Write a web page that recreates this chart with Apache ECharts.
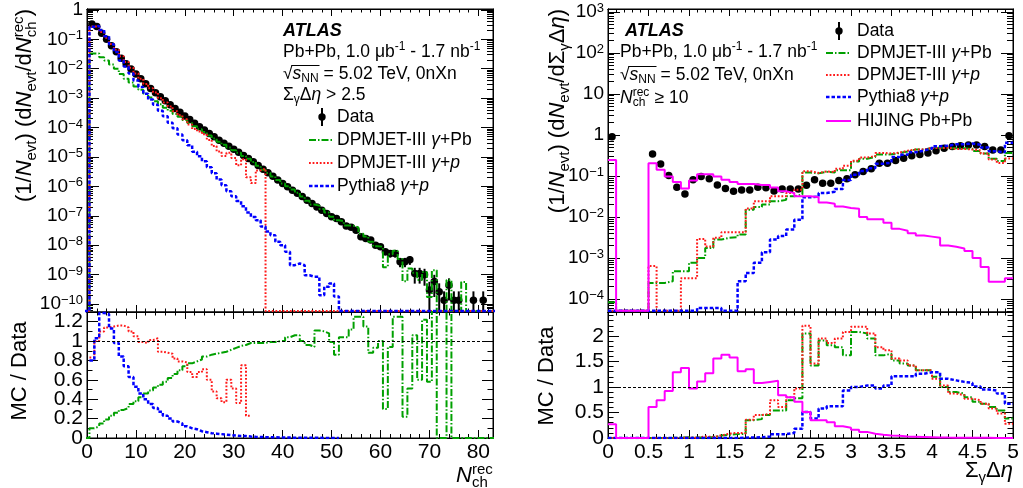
<!DOCTYPE html>
<html><head><meta charset="utf-8">
<script src="https://cdn.jsdelivr.net/npm/echarts@6/dist/echarts.min.js"></script>
<style>html,body{margin:0;padding:0;background:#fff}#c{width:1023px;height:488px}</style>
</head><body><div id="c"></div>
<script>
// ---------------- DATA (left: N_ch^rec bins, right: Sigma_gamma Delta eta bins) ----------------
const nchBins = [0,1,2,3,4,5,6,7,8,9,10,11,12,13,14,15,16,17,18,19,20,21,22,23,24,25,26,27,28,29,30,31,32,33,34,35,36,37,38,39,40,41,42,43,44,45,46,47,48,49,50,51,52,53,54,55,56,57,58,59,60,61,62,63,64,65,66,67,68,69,70,71,72,73,74,75,76,77,78,79,80,81,82,83];
const dataL = [0,
 0.331,0.275,0.162,0.1,0.0603,0.038,0.0229,0.0148,0.00977,0.00661,
 0.00457,0.00309,0.00214,0.00151,0.00112,8.1e-4,6.0e-4,4.4e-4,3.3e-4,2.45e-4,
 1.86e-4,1.41e-4,1.07e-4,8.3e-5,6.3e-5,4.9e-5,3.7e-5,2.9e-5,2.3e-5,1.82e-5,
 1.45e-5,1.12e-5,8.9e-6,6.9e-6,5.1e-6,3.8e-6,2.9e-6,2.2e-6,1.66e-6,1.26e-6,
 9.8e-7,7.4e-7,5.8e-7,4.5e-7,3.4e-7,2.6e-7,2.0e-7,1.55e-7,1.2e-7,9.3e-8,
 8.1e-8,6.3e-8,4.5e-8,4.1e-8,3.2e-8,1.95e-8,1.7e-8,1.5e-8,1.0e-8,8.9e-9,
 6.0e-9,5.2e-9,5.2e-9,2.75e-9,2.75e-9,3.2e-9,1.1e-9,1.1e-9,1.0e-9,3.0e-10,
 5.8e-10,2.6e-10,1.35e-10,4.4e-10,1.35e-10,1.35e-10,0,0,1.35e-10,0,
 1.35e-10,0,0];
const dataErrRelL = [0,
 0,0,0,0,0,0,0,0,0,0, 0,0,0,0,0,0,0,0,0,0, 0,0,0,0,0,0,0,0,0,0,
 0,0,0,0,0,0,0,0,0,0, 0,0,0,0,0,0,0,0,0,0,
 0,0,0,0,0,0,0,0.15,0.18,0.2,
 0.25,0.27,0.27,0.35,0.35,0.33,0.55,0.55,0.58,0.9,
 0.7,0.95,1.0,0.7,1.0,1.0,0,0,1.0,0,
 1.0,0,0];
const dpmPbL = [0,
 0.0331,0.033,0.0243,0.019,0.0139,0.00988,0.00664,0.00459,0.00342,0.00251,
 0.00192,0.00142,0.00105,7.85e-4,6.16e-4,4.7e-4,3.72e-4,2.9e-4,2.31e-4,1.81e-4,
 1.43e-4,1.11e-4,8.7e-5,7.0e-5,5.4e-5,4.26e-5,3.26e-5,2.58e-5,2.09e-5,1.69e-5,
 1.38e-5,1.08e-5,8.7e-6,6.8e-6,5.0e-6,3.7e-6,2.87e-6,2.18e-6,1.66e-6,1.26e-6,
 1.02e-6,7.8e-7,6.1e-7,4.5e-7,3.26e-7,2.44e-7,2.22e-7,1.7e-7,1.3e-7,9.2e-8,
 7.0e-8,6.6e-8,4.7e-8,4.6e-8,4.0e-8,2.44e-8,1.96e-8,1.32e-8,9.3e-9,8.9e-9,
 1.8e-9,4.9e-9,6.5e-9,3.4e-9,6.0e-10,1.63e-9,1.17e-9,6.6e-10,1.22e-9,1.74e-10,
 1.4e-9,0,0,6.6e-10,0,0,5.6e-10,0,0,0,
 0,0,0];
const dpmPL = [0,
 0.275,0.275,0.178,0.114,0.0693,0.0441,0.0266,0.0169,0.01075,0.00694,
 0.00452,0.00303,0.00216,0.00156,9.97e-4,7.13e-4,5.22e-4,3.61e-4,2.61e-4,1.91e-4,
 1.26e-4,8.9e-5,7.3e-5,5.9e-5,3.8e-5,2.35e-5,1.52e-5,1.07e-5,1.38e-5,9.3e-6,
 5.2e-6,8.4e-6,2.05e-6,1.3e-6,3.5e-6,4.0e-6,0,0,0,0,
 0,0,0,0,0,0,0,0,0,0, 0,0,0,0,0,0,0,0,0,0,
 0,0,0,0,0,0,0,0,0,0, 0,0,0,0,0,0,0,0,0,0,
 0,0,0];
const pyth8L = [0,
 0.265,0.283,0.209,0.128,0.068,0.037,0.019,0.012,0.0069,0.0040,
 0.0024,0.0014,8.9e-4,6.0e-4,3.7e-4,2.4e-4,1.45e-4,9.5e-5,5.8e-5,3.7e-5,
 2.5e-5,1.5e-5,1.05e-5,7.1e-6,4.5e-6,2.8e-6,1.7e-6,1.1e-6,6.8e-7,4.6e-7,
 3.2e-7,2.1e-7,1.3e-7,9.1e-8,7.1e-8,4.3e-8,2.9e-8,2.2e-8,1.3e-8,1.0e-8,
 6.0e-9,2.1e-9,2.4e-9,2.1e-9,9.5e-10,8.5e-10,8.5e-10,2.0e-10,3.9e-10,5.0e-10,
 1.8e-10,0,0,0,0,0,0,0,0,0,
 0,0,0,0,0,0,0,0,0,0, 0,0,0,0,0,0,0,0,0,0,
 0,0,0];
const ratioPbL = [0,
 0.10,0.12,0.15,0.19,0.23,0.26,0.29,0.31,0.35,0.38,
 0.42,0.46,0.49,0.52,0.55,0.58,0.62,0.66,0.70,0.74,
 0.77,0.79,0.81,0.84,0.86,0.87,0.88,0.89,0.91,0.93,
 0.95,0.96,0.98,0.98,0.98,0.98,0.99,0.99,1.0,1.0,
 1.04,1.06,1.06,1.0,0.96,0.94,1.11,1.10,1.08,0.99,
 0.86,1.04,1.04,1.12,1.25,1.25,1.15,0.88,0.93,1.0,
 0.3,0.94,1.25,1.25,0.22,0.51,1.06,0.6,1.22,0.58,
 2.4,0,0,4.9,0,0,0,0,0,0,
 0,0,0];
const ratioPL = [null,
 0.83,1.0,1.1,1.14,1.15,1.16,1.16,1.14,1.1,1.05,
 0.99,0.98,1.01,1.03,0.89,0.88,0.87,0.82,0.79,0.78,
 0.68,0.63,0.68,0.71,0.6,0.48,0.41,0.37,0.6,0.51,
 0.36,0.75,0.23];
const ratioPy8L = [null,
 0.80,1.03,1.29,1.28,1.13,0.98,0.84,0.74,0.63,0.53,
 0.46,0.40,0.35,0.31,0.27,0.23,0.20,0.17,0.15,0.12,
 0.10,0.09,0.07,0.06,0.05,0.045,0.04,0.035,0.03,0.025,
 0.02,0.02,0.015,0.012,0.01,0.009,0.008,0.007,0.006,0.005,
 0.004,0.003,0.003,0.003,0.002,0.002,0.002,0.001,0.001,0.001,
 0.001];

const sdeBins = [0.05,0.15,0.25,0.35,0.45,0.55,0.65,0.75,0.85,0.95,1.05,1.15,1.25,1.35,1.45,1.55,1.65,1.75,1.85,1.95,2.05,2.15,2.25,2.35,2.45,2.55,2.65,2.75,2.85,2.95,3.05,3.15,3.25,3.35,3.45,3.55,3.65,3.75,3.85,3.95,4.05,4.15,4.25,4.35,4.45,4.55,4.65,4.75,4.85,4.95];
const dataR = [0.9,0,0,0,0,0.34,0.195,0.102,0.053,0.036,
 0.080,0.097,0.085,0.060,0.049,0.042,0.045,0.045,0.053,0.051,
 0.043,0.048,0.048,0.048,0.059,0.081,0.066,0.066,0.077,0.085,
 0.107,0.128,0.149,0.204,0.204,0.237,0.27,0.31,0.33,0.36,
 0.41,0.47,0.52,0.54,0.57,0.57,0.52,0.43,0.43,0.95];
const dpmPbR = [8.3e-5,0,0,0,0,2.45e-4,2.45e-4,2.7e-4,4.7e-4,4.7e-4,
 7.6e-4,1.0e-3,1.74e-3,2.8e-3,3.1e-3,3.2e-3,3.7e-3,0.015,0.0174,0.020,
 0.024,0.026,0.032,0.035,0.121,0.115,0.126,0.120,0.137,0.138,
 0.223,0.262,0.29,0.33,0.337,0.36,0.394,0.44,0.44,0.48,
 0.49,0.47,0.47,0.47,0.456,0.405,0.35,0.26,0.23,0.36];
const dpmPR = [0,0,0,0,0,6.3e-4,0,0,0,3.2e-4,
 3.2e-4,2.9e-3,1.9e-3,3.1e-3,4.2e-3,4.2e-3,4.2e-3,0.016,0.024,0.024,
 0.032,0.032,0.038,0.046,0.13,0.118,0.129,0.123,0.15,0.177,
 0.233,0.279,0.305,0.363,0.351,0.37,0.41,0.44,0.44,0.48,
 0.476,0.484,0.452,0.454,0.439,0.42,0.35,0.25,0.206,0.266];
const pyth8R = [0,0,0,0,0,0,0,0,0,0,
 0,6e-5,6e-5,6e-5,0,0,2.7e-4,4.3e-4,7.6e-4,1.37e-3,
 2.8e-3,3.4e-3,4.9e-3,8.5e-3,0.030,0.031,0.038,0.041,0.048,0.079,
 0.107,0.132,0.153,0.198,0.21,0.287,0.327,0.375,0.416,0.464,
 0.53,0.545,0.588,0.594,0.616,0.576,0.494,0.40,0.374,0.64];
const hijingR = [0.245,0,0,0,0,0.204,0.141,0.097,0.071,0.049,
 0.077,0.11,0.11,0.097,0.081,0.071,0.063,0.063,0.06,0.06,
 0.052,0.042,0.038,0.032,0.032,0.030,0.0225,0.021,0.018,0.0165,
 0.0158,0.010,0.0087,0.0087,0.0072,0.0051,0.0046,0.0040,0.0035,0.0033,
 0.0031,0.0020,0.00186,0.0017,0.00148,0.0010,6.0e-4,2.6e-4,2.6e-4,3.2e-4];
const ratioPbR = [0,0,0,0,0,0.001,0.001,0.003,0.009,0.013,
 0.01,0.01,0.02,0.047,0.063,0.076,0.082,0.35,0.37,0.45,
 0.54,0.54,0.74,0.78,2.05,1.42,1.91,1.82,1.78,1.62,
 2.08,2.05,1.95,1.62,1.65,1.52,1.46,1.42,1.33,1.33,
 1.2,1.0,0.9,0.87,0.8,0.71,0.67,0.61,0.54,0.38];
const ratioPR = [0,0,0,0,0,0.002,0,0,0,0.009,
 0.004,0.03,0.022,0.05,0.086,0.1,0.093,0.36,0.45,0.47,
 0.74,0.61,0.8,0.97,2.2,1.46,1.95,1.86,1.95,2.08,
 2.18,2.18,2.05,1.78,1.72,1.56,1.52,1.42,1.33,1.33,
 1.16,1.03,0.87,0.84,0.77,0.74,0.67,0.58,0.48,0.28];
const ratioPy8R = [0,0,0,0,0,0,0,0,0,0,
 0,0.0006,0.0007,0.0006,0,0,0.006,0.01,0.014,0.026,
 0.075,0.075,0.1,0.18,0.51,0.38,0.58,0.62,0.62,0.93,
 1.0,1.03,1.03,0.97,1.03,1.21,1.21,1.21,1.26,1.29,
 1.29,1.16,1.13,1.1,1.08,1.01,0.95,0.93,0.87,0.67];
const ratioHijR = [0.27,0,0,0,0,0.61,0.74,0.92,1.29,1.37,
 0.97,1.11,1.27,1.56,1.63,1.58,1.31,1.35,1.08,1.1,
 1.12,0.84,0.8,0.71,0.51,0.35,0.35,0.31,0.23,0.2,
 0.16,0.12,0.085,0.065,0.05,0.045,0.03,0.025,0.02,0.015,
 0.01,0.008,0.007,0.006,0.005,0.004,0.003,0.002,0.001,0.001];

// tick labels
const xTicksL = [0,10,20,30,40,50,60,70,80];
const xTicksR = [0,0.5,1,1.5,2,2.5,3,3.5,4,4.5,5];
const yLogTicksL = [-10,-9,-8,-7,-6,-5,-4,-3,-2,-1,0];
const yLogTicksR = [-4,-3,-2,-1,0,1,2,3];
const yRatioTicksL = [0,0.2,0.4,0.6,0.8,1,1.2];
const yRatioTicksR = [0,0.5,1,1.5,2];

// ---------------- helpers ----------------
const F = '"Liberation Sans", Arial, Helvetica, sans-serif';
const XL = [0, 83], YL = [-10.27, 0.03], RL = [0, 1.3];
const XR = [0, 5], YR = [-4.32, 3.07], RR = [0, 2.47];
const C_G = '#00a000', C_R = '#ff1a1a', C_B = '#0000ff', C_M = '#ff00ff';
const D_G = [7,2,1.5,2], D_R = [1.8,1.8], D_B = [3.5,2];

function minorLog(r){ const a=[]; for(let n=Math.floor(r[0])-1;n<=Math.ceil(r[1]);n++) for(let k=2;k<=9;k++){const v=n+Math.log10(k); if(v>r[0]&&v<r[1]) a.push(v);} return a; }
function minorLin(r, step, majors){ const a=[]; const n=Math.round((r[1]-r[0])/step); for(let i=1;i<n+1;i++){ const v=+(r[0]+i*step).toFixed(4); if(v>=r[1]) break; if(!majors.some(m=>Math.abs(m-v)<1e-6)) a.push(v);} return a; }

const xAxes = [], yAxes = [];
function ax(base, pos, vals, len, lab, labVals){
  return Object.assign({}, base, {
    position: pos,
    axisLine: {show: len > 0, onZero: false, lineStyle: {color: '#000', width: 1}},
    axisTick: {show: len > 0, inside: true, length: len, lineStyle: {color: '#000', width: 1}, customValues: vals},
    axisLabel: lab ? Object.assign({show: true, customValues: labVals || vals, color: '#000', fontFamily: F,
                       showMinLabel: true, showMaxLabel: true, hideOverlap: false}, lab) : {show: false},
    splitLine: {show: false}, minorTick: {show: false}, minorSplitLine: {show: false}, silent: true
  });
}
function panel(g, xr, yr, xMaj, xMin, yMaj, yMin, xLab, yLab, L){
  const xb = {gridIndex: g, type: 'value', min: xr[0], max: xr[1]};
  const yb = {gridIndex: g, type: 'value', min: yr[0], max: yr[1]};
  xAxes.push(ax(xb,'bottom',xMaj,L.xb,xLab)); const xi = xAxes.length-1;
  xAxes.push(ax(xb,'bottom',xMin,L.xb/2,null));
  xAxes.push(ax(xb,'top',xMaj,L.xt,null));
  xAxes.push(ax(xb,'top',xMin,L.xt/2,null));
  // labels split over two axes (alternate values) so that no automatic min/max label hiding happens
  const labA = L.split ? yMaj.filter((v,i)=>i%2===0) : yMaj;
  const labB = L.split ? yMaj.filter((v,i)=>i%2===1) : null;
  yAxes.push(ax(yb,'left',yMaj,L.y,yLab,labA)); const yi = yAxes.length-1;
  if (labB) yAxes.push(ax(yb,'left',labB,0,yLab,labB));
  yAxes.push(ax(yb,'left',yMin,L.y/2,null));
  yAxes.push(ax(yb,'right',yMaj,L.y,null));
  yAxes.push(ax(yb,'right',yMin,L.y/2,null));
  return {xi, yi};
}
const logLabel = {
  margin: 4,
  formatter: v => { const n = Math.round(v); if (n === 0) return '{b|1}'; if (n === 1) return '{b|10}'; return '{b|10}{s|' + (n < 0 ? '\u2212' : '') + Math.abs(n) + '}'; },
  rich: { b: {fontSize: 19, fontFamily: F, color: '#000', lineHeight: 20, verticalAlign: 'middle'},
          s: {fontSize: 13, fontFamily: F, color: '#000', lineHeight: 12, verticalAlign: 'top'} }
};
const numLabelX = {fontSize: 21, lineHeight: 18, margin: 5};
const numLabelY = {fontSize: 21, lineHeight: 18, margin: 4};

const P0 = panel(0, XL, YL, xTicksL, minorLin(XL,2,xTicksL), yLogTicksL, minorLog(YL), null, logLabel, {xb:7, xt:7, y:12});
const P1 = panel(1, XL, RL, xTicksL, minorLin(XL,2,xTicksL), yRatioTicksL, minorLin(RL,0.1,yRatioTicksL), numLabelX, numLabelY, {xb:8, xt:7, y:11, split:true});
const P2 = panel(2, XR, YR, xTicksR, minorLin(XR,0.1,xTicksR), yLogTicksR, minorLog(YR), null, logLabel, {xb:7, xt:7, y:12});
const P3 = panel(3, XR, RR, xTicksR, minorLin(XR,0.1,xTicksR), yRatioTicksR, minorLin(RR,0.1,yRatioTicksR), numLabelX, numLabelY, {xb:8, xt:7, y:11});

const lgL = v => v > 0 ? Math.log10(v) : YL[0] + 0.03;
const lgR = v => v > 0 ? Math.log10(v) : YR[0] + 0.03;
const lin = v => v;
function histPts(centers, w, vals, tf){
  const pts = [];
  for (let i = 0; i < centers.length; i++){
    const v = vals[i];
    if (v === null || v === undefined) continue;
    const y = tf(v);
    pts.push([centers[i] - w/2, y], [centers[i] + w/2, y]);
  }
  return pts;
}
function hline(P, pts, color, width, dash, extra){
  return Object.assign({type: 'line', xAxisIndex: P.xi, yAxisIndex: P.yi, data: pts, symbol: 'none', showSymbol: false,
    clip: true, silent: true, animation: false, lineStyle: {color, width, type: dash || 'solid', cap: 'butt'}}, extra || {});
}
function markers(P, centers, vals, tf){
  const pts = [];
  centers.forEach((c, i) => { if (vals[i] > 0) pts.push([c, tf(vals[i])]); });
  return {type: 'scatter', xAxisIndex: P.xi, yAxisIndex: P.yi, data: pts, symbol: 'circle', symbolSize: 7.5,
    itemStyle: {color: '#000', opacity: 1}, silent: true, animation: false, clip: true};
}
function errBars(P, centers, vals, rel, tf, floor){
  const pts = [];
  centers.forEach((c, i) => { const v = vals[i], e = rel[i]; if (v > 0 && e > 0){ const lo = v*(1-e); pts.push([c, lo > 0 ? Math.max(tf(lo), floor) : floor, tf(v*(1+e))]); } });
  return {type: 'custom', xAxisIndex: P.xi, yAxisIndex: P.yi, data: pts, clip: true, silent: true, animation: false,
    renderItem: (params, api) => { const a = api.coord([api.value(0), api.value(1)]), b = api.coord([api.value(0), api.value(2)]);
      return {type: 'line', shape: {x1: a[0], y1: a[1], x2: b[0], y2: b[1]}, style: {stroke: '#000', lineWidth: 2}}; }};
}
const unityLine = {markLine: {silent: true, symbol: ['none','none'], label: {show: false}, animation: false,
  lineStyle: {color: '#000', width: 1, type: [3,2]}, data: [{yAxis: 1}]}};

const series = [
  errBars(P0, nchBins, dataL, dataErrRelL, lgL, YL[0]),
  markers(P0, nchBins, dataL, lgL),
  hline(P0, histPts(nchBins, 1, dpmPbL, lgL), C_G, 2, D_G),
  hline(P0, histPts(nchBins, 1, dpmPL, lgL), C_R, 2, D_R),
  hline(P0, histPts(nchBins, 1, pyth8L, lgL), C_B, 2.5, D_B),
  hline(P1, histPts(nchBins, 1, ratioPbL, lin), C_G, 2, D_G, unityLine),
  hline(P1, histPts(nchBins, 1, ratioPL, lin), C_R, 2, D_R),
  hline(P1, histPts(nchBins, 1, ratioPy8L, lin), C_B, 2.5, D_B),
  markers(P2, sdeBins, dataR, lgR),
  hline(P2, histPts(sdeBins, 0.1, dpmPbR, lgR), C_G, 2, D_G),
  hline(P2, histPts(sdeBins, 0.1, dpmPR, lgR), C_R, 2, D_R),
  hline(P2, histPts(sdeBins, 0.1, pyth8R, lgR), C_B, 2.5, D_B),
  hline(P2, histPts(sdeBins, 0.1, hijingR, lgR), C_M, 2, 'solid'),
  hline(P3, histPts(sdeBins, 0.1, ratioPbR, lin), C_G, 2, D_G, unityLine),
  hline(P3, histPts(sdeBins, 0.1, ratioPR, lin), C_R, 2, D_R),
  hline(P3, histPts(sdeBins, 0.1, ratioPy8R, lin), C_B, 2.5, D_B),
  hline(P3, histPts(sdeBins, 0.1, ratioHijR, lin), C_M, 2, 'solid')
];

// ---------------- texts ----------------
const TS = 17.5, SS = 12;
const richTxt = {
  t: {fontSize: TS, fontFamily: F, lineHeight: 22, verticalAlign: 'middle', align: 'left'},
  ti: {fontSize: TS, fontFamily: F, fontStyle: 'italic', lineHeight: 22, verticalAlign: 'middle', align: 'left'},
  sb: {fontSize: SS, fontFamily: F, lineHeight: SS, verticalAlign: 'bottom', align: 'left'},
  sp: {fontSize: SS, fontFamily: F, lineHeight: SS, verticalAlign: 'top', align: 'left'},
  sp0: {fontSize: SS, fontFamily: F, lineHeight: SS, verticalAlign: 'top', align: 'left', width: 0.01},
  sbw: {fontSize: SS, fontFamily: F, lineHeight: SS, verticalAlign: 'bottom', align: 'left', width: 17}
};
const richTitle = {
  m: {fontSize: 22, fontFamily: F, lineHeight: 28, verticalAlign: 'middle', align: 'left'},
  mi: {fontSize: 22, fontFamily: F, fontStyle: 'italic', lineHeight: 28, verticalAlign: 'middle', align: 'left'},
  sb: {fontSize: 15, fontFamily: F, lineHeight: 15, verticalAlign: 'bottom', align: 'left'},
  sp0: {fontSize: 15, fontFamily: F, lineHeight: 15, verticalAlign: 'top', align: 'left', width: 0.01},
  sbw: {fontSize: 15, fontFamily: F, lineHeight: 15, verticalAlign: 'bottom', align: 'left', width: 21}
};
function txt(x, y, text, rich, extra, align){
  return Object.assign({type: 'text', x, y, z: 100, silent: true,
    style: {text, rich, fill: '#000', font: TS + 'px ' + F, align: align || 'left', verticalAlign: 'middle'}}, extra || {});
}
function atlas(x, y){ return {type: 'text', x, y, z: 100, silent: true, style: {text: 'ATLAS', fill: '#000', font: 'italic bold 18px ' + F, align: 'left', verticalAlign: 'middle'}}; }
function seg(x1, y1, x2, y2, color, w, dash){ return {type: 'line', z: 100, silent: true, shape: {x1, y1, x2, y2}, style: {stroke: color, lineWidth: w, lineDash: dash || null}}; }
function dataKey(x, y){ return [seg(x, y-9, x, y+9, '#000', 2), {type: 'circle', z: 101, silent: true, shape: {cx: x, cy: y, r: 3.7}, style: {fill: '#000'}}]; }

const lumi = '{t|Pb+Pb, 1.0 \u03bcb}{sp|-1}{t| - 1.7 nb}{sp|-1}';
const sqrtS = '{t|\u221a}{ti|s}{sb|NN}{t| = 5.02 TeV, 0nXn}';
const g = [];
// left panel annotations
g.push(atlas(283, 31));
g.push(txt(283, 52, lumi, richTxt));
g.push(txt(283, 74, sqrtS, richTxt));
g.push(seg(291.5, 65.5, 319.5, 65.5, '#000', 1));
g.push(txt(283, 95, '{t|\u03a3}{sb|\u03b3}{t|\u0394}{ti|\u03b7}{t| > 2.5}', richTxt));
g.push(...dataKey(322, 117));
g.push(txt(337, 117, '{t|Data}', richTxt));
g.push(seg(309, 140, 334, 140, C_G, 2, D_G));
g.push(txt(337, 140, '{t|DPMJET-III }{ti|\u03b3}{t|+Pb}', richTxt));
g.push(seg(309, 163, 334, 163, C_R, 2, D_R));
g.push(txt(337, 163, '{t|DPMJET-III }{ti|\u03b3}{t|+}{ti|p}', richTxt));
g.push(seg(309, 186, 334, 186, C_B, 2.5, D_B));
g.push(txt(337, 186, '{t|Pythia8 }{ti|\u03b3}{t|+}{ti|p}', richTxt));
// right panel annotations
g.push(atlas(625, 31));
g.push(txt(620, 52, lumi, richTxt));
g.push(txt(620, 75, sqrtS, richTxt));
g.push(seg(628.5, 66.5, 656.5, 66.5, '#000', 1));
g.push(txt(620, 98, '{ti|N}{sp0|rec}{sbw|ch}{t| \u2265 10}', richTxt));
g.push(...dataKey(839, 31));
g.push(txt(857, 31, '{t|Data}', richTxt));
g.push(seg(826, 53, 851, 53, C_G, 2, D_G));
g.push(txt(857, 53, '{t|DPMJET-III }{ti|\u03b3}{t|+Pb}', richTxt));
g.push(seg(826, 75, 851, 75, C_R, 2, D_R));
g.push(txt(857, 75, '{t|DPMJET-III }{ti|\u03b3}{t|+}{ti|p}', richTxt));
g.push(seg(826, 97, 851, 97, C_B, 2.5, D_B));
g.push(txt(857, 97, '{t|Pythia8 }{ti|\u03b3}{t|+}{ti|p}', richTxt));
g.push(seg(826, 121, 851, 121, C_M, 2));
g.push(txt(857, 121, '{t|HIJING Pb+Pb}', richTxt));
// axis titles
g.push(txt(25, 9, '{m|(1/}{mi|N}{sb|evt}{m|) (d}{mi|N}{sb|evt}{m|/d}{mi|N}{sp0|rec}{sbw|ch}{m|)}', richTitle, {rotation: Math.PI/2}, 'right'));
g.push(txt(558, 9, '{m|(1/}{mi|N}{sb|evt}{m|) (d}{mi|N}{sb|evt}{m|/d\u03a3}{sb|\u03b3}{m|\u0394}{mi|\u03b7}{m|)}', richTitle, {rotation: Math.PI/2}, 'right'));
g.push(txt(20, 371, '{m|MC / Data}', richTitle, {rotation: Math.PI/2}, 'center'));
g.push(txt(547, 376, '{m|MC / Data}', richTitle, {rotation: Math.PI/2}, 'center'));
g.push(txt(493, 476, '{mi|N}{sp0|rec}{sbw|ch}', richTitle, null, 'right'));
g.push(txt(1013, 471, '{m|\u03a3}{sb|\u03b3}{m|\u0394}{mi|\u03b7}', richTitle, null, 'right'));

const gridStyle = {show: true, borderColor: '#000', borderWidth: 1, backgroundColor: 'transparent'};
const option = {
  animation: false,
  backgroundColor: '#fff',
  grid: [
    Object.assign({left: 87, top: 9, width: 406, height: 303}, gridStyle),
    Object.assign({left: 87, top: 312, width: 406, height: 126}, gridStyle),
    Object.assign({left: 608, top: 9, width: 405, height: 303}, gridStyle),
    Object.assign({left: 608, top: 312, width: 405, height: 126}, gridStyle)
  ],
  xAxis: xAxes, yAxis: yAxes, series, graphic: {elements: g}
};
const chart = echarts.init(document.getElementById('c'), null, {renderer: 'canvas', width: 1023, height: 488});
chart.setOption(option);
</script></body></html>
